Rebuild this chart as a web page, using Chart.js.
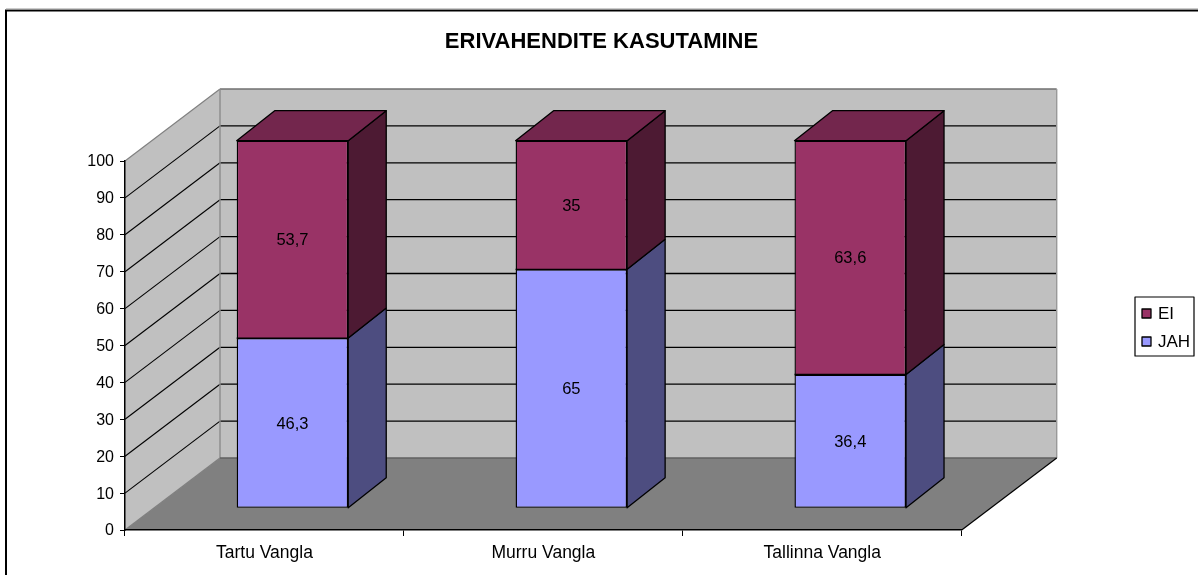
<!DOCTYPE html>
<html><head><meta charset="utf-8">
<style>html,body{margin:0;padding:0;background:#fff}canvas{display:block}</style>
<script src="https://cdn.jsdelivr.net/npm/chart.js@4/dist/chart.umd.js"></script>
</head><body><canvas id="c" width="1198" height="575"></canvas>
<script>
const categories = ['Tartu Vangla', 'Murru Vangla', 'Tallinna Vangla'];
const jahValues = [46.3, 65, 36.4];
const eiValues = [53.7, 35, 63.6];
const chartTitle = 'ERIVAHENDITE KASUTAMINE';
const FONT = '"Liberation Sans", Arial, sans-serif';

const wall = {dx: 95, dy: -72};          // depth of the 3D box
const barFront = {dx: 28, dy: -21.7, k: 0.9962}; // front face position inside the box
const barDepth = {dx: 38, dy: -30};      // depth of each bar
const shades = {
  JAH: {front: '#9999ff', side: '#4d4d80', top: '#7373bf'},
  EI: {front: '#993366', side: '#4d1a33', top: '#73264d'}
};

function poly(ctx, pts, fill, stroke, lw) {
  ctx.beginPath();
  pts.forEach((p, i) => i ? ctx.lineTo(p[0], p[1]) : ctx.moveTo(p[0], p[1]));
  ctx.closePath();
  if (fill) { ctx.fillStyle = fill; ctx.fill(); }
  if (stroke) { ctx.strokeStyle = stroke; ctx.lineWidth = lw || 1; ctx.stroke(); }
}
function line(ctx, x1, y1, x2, y2, color, lw) {
  ctx.beginPath(); ctx.moveTo(x1, y1); ctx.lineTo(x2, y2);
  ctx.strokeStyle = color; ctx.lineWidth = lw || 1; ctx.stroke();
}

const box3d = {
  id: 'box3d',
  beforeDraw(chart) {
    const {ctx, chartArea: a, scales} = chart;
    const y = scales.y;
    const L = a.left, R = a.right, T = a.top, B = a.bottom, dx = wall.dx, dy = wall.dy;
    ctx.save();
    // frame
    ctx.strokeStyle = '#000'; ctx.lineWidth = 2;
    ctx.strokeRect(6, 10.5, 1400, 800);
    line(ctx, 6, 9, 1198, 9, '#999', 1);
    // walls and floor
    poly(ctx, [[L, T], [L + dx, T + dy], [L + dx, B + dy], [L, B]], '#c0c0c0');
    poly(ctx, [[L + dx, T + dy], [R + dx, T + dy], [R + dx, B + dy], [L + dx, B + dy]], '#c0c0c0');
    poly(ctx, [[L, B], [L + dx, B + dy], [R + dx, B + dy], [R, B]], '#808080');
    // gridlines
    y.ticks.forEach(t => {
      if (t.value === 0 || t.value === y.max) return;
      const py = y.getPixelForValue(t.value);
      line(ctx, L, py, L + dx, py + dy, '#000', 1.1);
      line(ctx, L + dx, py + dy, R + dx, py + dy, '#000', 1.3);
    });
    // wall edges
    line(ctx, L, T, L + dx, T + dy, '#808080', 1.2);
    line(ctx, L + dx, T + dy, R + dx, T + dy, '#707070', 1.6);
    line(ctx, L + dx, T + dy, L + dx, B + dy, '#8c8c8c', 1.4);
    line(ctx, R + dx, T + dy, R + dx, B + dy, '#999', 1.4);
    line(ctx, L, B, L + dx, B + dy, '#808080', 1.4);
    line(ctx, L + dx, B + dy, R + dx, B + dy, '#606060', 1.4);
    line(ctx, R, B, R + dx, B + dy, '#000', 1.2);
    ctx.restore();
  },
  beforeDatasetsDraw(chart) {
    const {ctx, scales} = chart;
    const y0 = scales.y.getPixelForValue(0);
    ctx.save();
    ctx.translate(barFront.dx, y0 + barFront.dy);
    ctx.scale(1, barFront.k);
    ctx.translate(0, -y0);
  },
  afterDatasetsDraw(chart) {
    const {ctx, scales} = chart;
    ctx.restore();
    const y0 = scales.y.getPixelForValue(0);
    const fy = v => y0 + barFront.dy - (y0 - v) * barFront.k;
    const ddx = barDepth.dx, ddy = barDepth.dy;
    ctx.save();
    ctx.lineJoin = 'round';
    chart.data.datasets.forEach((ds, di) => {
      const c = shades[ds.label];
      const last = di === chart.data.datasets.length - 1;
      chart.getDatasetMeta(di).data.forEach(el => {
        const l = el.x - el.width / 2 + barFront.dx, r = el.x + el.width / 2 + barFront.dx;
        const t = fy(el.y), b = fy(el.base);
        poly(ctx, [[r, t], [r + ddx, t + ddy], [r + ddx, b + ddy], [r, b]], c.side, '#000', 1.3);
        if (last) {
          poly(ctx, [[l, t], [l + ddx, t + ddy], [r + ddx, t + ddy], [r, t]], c.top, '#000', 1.3);
        } else {
          line(ctx, l, t, r, t, '#000', 1.4);
        }
      });
    });
    // value labels
    ctx.fillStyle = '#000';
    ctx.font = '16.5px ' + FONT;
    ctx.textAlign = 'center'; ctx.textBaseline = 'middle';
    chart.data.datasets.forEach((ds, di) => {
      chart.getDatasetMeta(di).data.forEach((el, i) => {
        const txt = String(ds.data[i]).replace('.', ',');
        ctx.fillText(txt, el.x + barFront.dx, (fy(el.y) + fy(el.base)) / 2 + 1.2);
      });
    });
    // legend (reverse series order)
    const bx = 1135, by = 297, bw = 59, bh = 59;
    ctx.strokeStyle = '#000'; ctx.lineWidth = 1.2;
    ctx.strokeRect(bx, by, bw, bh);
    ctx.textAlign = 'left';
    ctx.font = '17px ' + FONT;
    [...chart.data.datasets].reverse().forEach((ds, i) => {
      const ry = by + 12 + i * 28;
      ctx.fillStyle = ds.backgroundColor;
      ctx.fillRect(bx + 7, ry, 9, 9);
      ctx.strokeStyle = '#000'; ctx.lineWidth = 1.3;
      ctx.strokeRect(bx + 7, ry, 9, 9);
      ctx.fillStyle = '#000';
      ctx.fillText(ds.label, bx + 23, ry + 5.5);
    });
    ctx.restore();
  }
};

new Chart(document.getElementById('c'), {
  type: 'bar',
  plugins: [box3d],
  data: {
    labels: categories,
    datasets: [
      {label: 'JAH', data: jahValues, backgroundColor: shades.JAH.front, borderColor: '#000', borderWidth: 1.4, borderSkipped: false, clip: false},
      {label: 'EI', data: eiValues, backgroundColor: shades.EI.front, borderColor: '#000', borderWidth: 1.4, borderSkipped: 'bottom', clip: false}
    ]
  },
  options: {
    responsive: false,
    animation: false,
    events: [],
    layout: {padding: {top: 0, left: 5, right: 0, bottom: 0}},
    datasets: {bar: {categoryPercentage: 1, barPercentage: 0.4}},
    plugins: {
      legend: {display: false},
      tooltip: {enabled: false},
      title: {
        display: true, text: chartTitle, color: '#000', fullSize: true,
        font: {family: FONT, size: 22, weight: 'bold'},
        padding: {top: 29, bottom: 105.6}
      }
    },
    scales: {
      x: {
        stacked: true,
        grid: {display: true, drawOnChartArea: false, drawTicks: true, tickLength: 6, color: '#000', offset: true},
        border: {display: true, color: '#000', width: 1.5},
        ticks: {color: '#000', font: {family: FONT, size: 17.5}, padding: 6.5, maxRotation: 0},
        afterFit(s) { s.height = 45; }
      },
      y: {
        stacked: true, min: 0, max: 100,
        grid: {display: true, drawOnChartArea: false, drawTicks: true, tickLength: 5, color: '#000'},
        border: {display: true, color: '#000', width: 1.5},
        ticks: {stepSize: 10, color: '#000', font: {family: FONT, size: 16}, padding: 6, labelOffset: 1},
        afterFit(s) { s.width = 120; }
      },
      spacer: {
        position: 'right', display: true,
        grid: {display: false}, border: {display: false}, ticks: {display: false},
        afterFit(s) { s.width = 236.3; }
      }
    }
  }
});
</script></body></html>
